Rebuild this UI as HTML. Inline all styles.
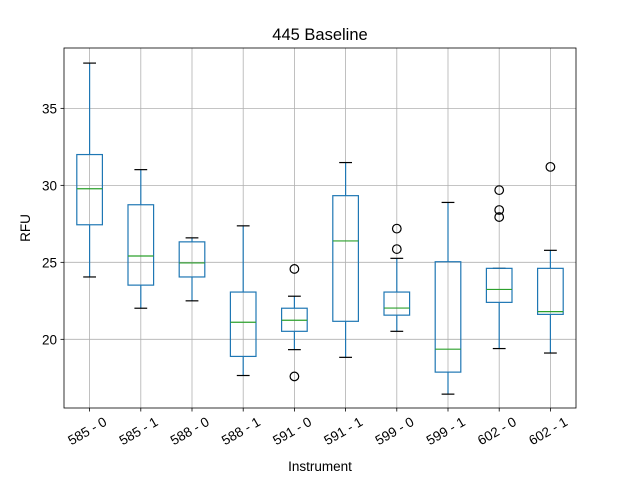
<!DOCTYPE html>
<html><head><meta charset="utf-8"><style>body{margin:0;background:#fff}svg{display:block;font-family:"Liberation Sans","DejaVu Sans",sans-serif}</style></head>
<body>
<svg id="chart" width="640" height="480" viewBox="0 0 640 480" xmlns="http://www.w3.org/2000/svg">
<rect width="640" height="480" fill="#fff"/>
<g id="grid"></g><g id="boxes"></g><g id="ticks"></g>
<rect x="64" y="48" width="512" height="360" fill="none" stroke="#000" stroke-width="0.8"/>
<text x="320" y="40" font-size="16.5" text-anchor="middle">445 Baseline</text>
<text x="320" y="471" font-size="13.5" text-anchor="middle">Instrument</text>
<text x="0" y="0" font-size="13.5" text-anchor="middle" transform="translate(30,228) rotate(-90)">RFU</text>
</svg>
<script>
const categories=["585 - 0","585 - 1","588 - 0","588 - 1","591 - 0","591 - 1","599 - 0","599 - 1","602 - 0","602 - 1"];
const whiskerLow=[24.05,22.02,22.5,17.65,19.33,18.83,20.52,16.44,19.4,19.11];
const q1=[27.44,23.52,24.05,18.89,20.52,21.17,21.57,17.87,22.4,21.62];
const medians=[29.78,25.41,24.96,21.11,21.24,26.39,22.03,19.36,23.24,21.8];
const q3=[32.0,28.74,26.33,23.07,22.02,29.33,23.07,25.04,24.61,24.61];
const whiskerHigh=[37.94,31.02,26.59,27.37,22.8,31.48,25.26,28.89,24.61,25.78];
const fliers=[[],[],[],[],[24.57,17.59],[],[27.19,25.86],[],[29.69,28.4,27.94],[31.2]];
const yTicks=[20,25,30,35];
const NS="http://www.w3.org/2000/svg";
const L=64,R=576,T=48,B=408,yMin=15.54,yMax=38.92;
const y=v=>B-(v-yMin)/(yMax-yMin)*(B-T);
const step=(R-L)/categories.length;
const x=i=>L+step*(i+0.5);
function mk(p,tag,a){const e=document.createElementNS(NS,tag);for(const k in a)e.setAttribute(k,a[k]);p.appendChild(e);return e;}
const grid=document.getElementById('grid'),boxes=document.getElementById('boxes'),ticks=document.getElementById('ticks');
yTicks.forEach(t=>{
 const g=mk(grid,'line',{x1:L,x2:R,y1:y(t),y2:y(t),stroke:'#b0b0b0','stroke-width':0.8});
 
 
 mk(ticks,'line',{x1:L-3.5,x2:L,y1:y(t),y2:y(t),stroke:'#000','stroke-width':0.8});
 const tx=mk(ticks,'text',{x:L-7,y:y(t)+5,'font-size':13.5,'text-anchor':'end'});
 tx.textContent=t;
 
 
});
const bw=step*0.5;
categories.forEach((c,i)=>{
 const cx=x(i);
 const gl=mk(grid,'line',{x1:cx,x2:cx,y1:T,y2:B,stroke:'#b0b0b0','stroke-width':0.8});
 
 
 mk(ticks,'line',{x1:cx,x2:cx,y1:B,y2:B+3.5,stroke:'#000','stroke-width':0.8});
 const tx=mk(ticks,'text',{x:0,y:0,'font-size':13.5,'text-anchor':'middle',transform:`translate(${cx},${B+27}) rotate(-30)`});
 tx.textContent=c;
 
 
 const g=mk(boxes,'g',{});
 
 
 const bl='#1f77b4';
 mk(g,'line',{x1:cx,x2:cx,y1:y(q3[i]),y2:y(whiskerHigh[i]),stroke:bl,'stroke-width':1.2});
 mk(g,'line',{x1:cx,x2:cx,y1:y(q1[i]),y2:y(whiskerLow[i]),stroke:bl,'stroke-width':1.2});
 mk(g,'line',{x1:cx-bw/4,x2:cx+bw/4,y1:y(whiskerHigh[i]),y2:y(whiskerHigh[i]),stroke:'#000','stroke-width':1.2});
 mk(g,'line',{x1:cx-bw/4,x2:cx+bw/4,y1:y(whiskerLow[i]),y2:y(whiskerLow[i]),stroke:'#000','stroke-width':1.2});
 mk(g,'rect',{x:cx-bw/2,y:y(q3[i]),width:bw,height:y(q1[i])-y(q3[i]),fill:'none',stroke:bl,'stroke-width':1.2});
 mk(g,'line',{x1:cx-bw/2,x2:cx+bw/2,y1:y(medians[i]),y2:y(medians[i]),stroke:'#2ca02c','stroke-width':1.2});
 fliers[i].forEach(f=>{
  const fc=mk(g,'circle',{cx:cx,cy:y(f),r:4.3,fill:'none',stroke:'#000','stroke-width':1.2});
  
  
 });
});
</script>
</body></html>
